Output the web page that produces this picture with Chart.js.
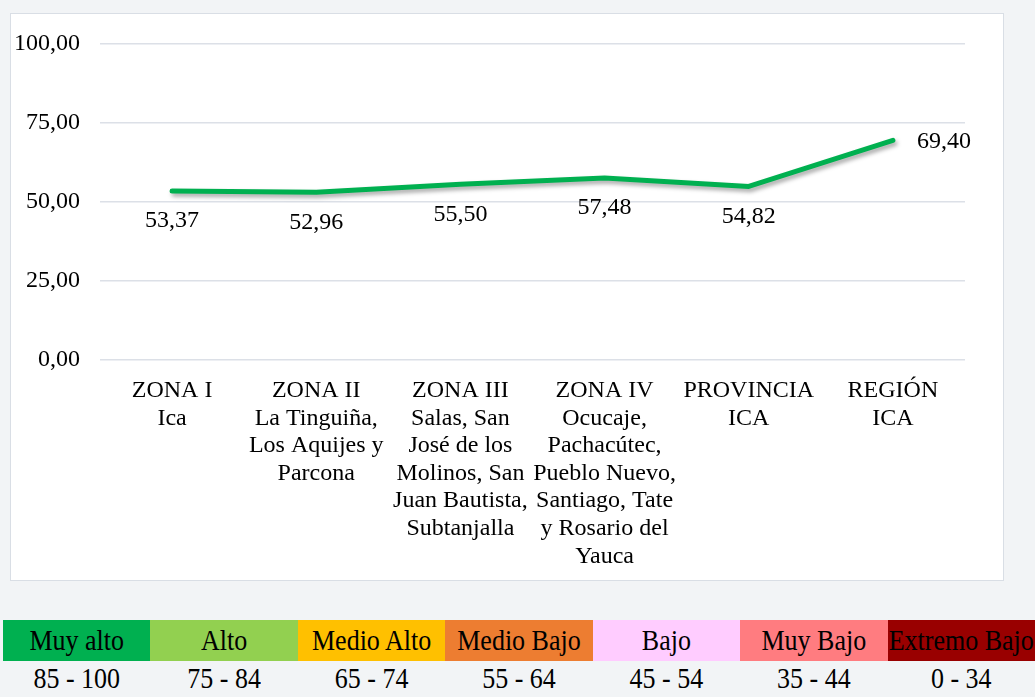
<!DOCTYPE html>
<html>
<head>
<meta charset="utf-8">
<script src="https://cdn.jsdelivr.net/npm/chart.js@4/dist/chart.umd.min.js"></script>
<style>
  html, body { margin: 0; padding: 0; }
  body { width: 1035px; height: 697px; background: #f2f4f6; position: relative; overflow: hidden; font-family: "Liberation Serif", "Times New Roman", serif; }
  #box { position: absolute; left: 10px; top: 13px; width: 992px; height: 566px; background: #fff; border: 1px solid #d9dee5; overflow: hidden; }
  #box canvas { display: block; position: absolute; left: 0; top: -5px; }
  #legend { position: absolute; left: 3px; top: 620px; width: 1032px; border-collapse: collapse; table-layout: fixed; }
  #legend td { padding: 0; text-align: center; font-size: 26px; color: #000; white-space: nowrap; overflow: visible; }
  #legend td span { display: inline-block; transform: scaleY(1.1); }
  #legend tr.c td { height: 41px; }
  #legend tr.r td { height: 36px; }
</style>
</head>
<body>
<div id="box"><canvas id="c" width="992" height="571"></canvas></div>
<table id="legend"><tr class="c" id="rowC"></tr><tr class="r" id="rowR"></tr></table>
<script>
const categories = [
  ["ZONA I", "Ica"],
  ["ZONA II", "La Tinguiña,", "Los Aquijes y", "Parcona"],
  ["ZONA III", "Salas, San", "José de los", "Molinos, San", "Juan Bautista,", "Subtanjalla"],
  ["ZONA IV", "Ocucaje,", "Pachacútec,", "Pueblo Nuevo,", "Santiago, Tate", "y Rosario del", "Yauca"],
  ["PROVINCIA", "ICA"],
  ["REGIÓN", "ICA"]
];
const values = [53.37, 52.96, 55.50, 57.48, 54.82, 69.40];
const yTicks = [0, 25, 50, 75, 100];
const levelNames = ["Muy alto", "Alto", "Medio Alto", "Medio Bajo", "Bajo", "Muy Bajo", "Extremo Bajo"];
const levelRanges = ["85 - 100", "75 - 84", "65 - 74", "55 - 64", "45 - 54", "35 - 44", "0 - 34"];
const levelColors = ["#00b050", "#92d050", "#ffc000", "#ed7d31", "#ffccff", "#ff7c80", "#990000"];

const fmt = v => v.toFixed(2).replace('.', ',');
const FONT = '"Liberation Serif", "Times New Roman", serif';

// legend table
const rowC = document.getElementById('rowC'), rowR = document.getElementById('rowR');
levelNames.forEach((n, i) => {
  const td = document.createElement('td'); const s = document.createElement('span'); s.textContent = n; td.appendChild(s); td.style.background = levelColors[i]; rowC.appendChild(td);
  const td2 = document.createElement('td'); const s2 = document.createElement('span'); s2.textContent = levelRanges[i]; td2.appendChild(s2); rowR.appendChild(td2);
});

const shadowPlugin = {
  id: 'shadow',
  beforeDatasetDraw(chart) { const c = chart.ctx; c.save(); c.shadowColor = 'rgba(0,0,0,0.35)'; c.shadowBlur = 4; c.shadowOffsetX = 2; c.shadowOffsetY = 3; },
  afterDatasetDraw(chart) { chart.ctx.restore(); }
};
const labelPlugin = {
  id: 'vlabels',
  afterDatasetsDraw(chart) {
    const c = chart.ctx; const meta = chart.getDatasetMeta(0);
    c.save(); c.font = '24px ' + FONT; c.fillStyle = '#000';
    meta.data.forEach((p, i) => {
      const t = fmt(values[i]);
      if (i === values.length - 1) { c.textAlign = 'left'; c.textBaseline = 'middle'; c.fillText(t, p.x + 24, p.y + 1); }
      else { c.textAlign = 'center'; c.textBaseline = 'middle'; c.fillText(t, p.x, p.y + 30); }
    });
    c.restore();
  }
};

new Chart(document.getElementById('c'), {
  type: 'line',
  data: { labels: categories, datasets: [{ data: values, borderColor: '#00b050', borderWidth: 5, pointRadius: 0, tension: 0, borderCapStyle: 'round', borderJoinStyle: 'round', fill: false }] },
  options: {
    responsive: false, animation: false,
    layout: { padding: { top: 23, right: 38, left: 0, bottom: 0 } },
    plugins: { legend: { display: false }, tooltip: { enabled: false } },
    scales: {
      x: {
        offset: true,
        grid: { display: false },
        border: { display: false },
        ticks: { font: { family: FONT, size: 24, lineHeight: 1.15 }, color: '#000', padding: 9, maxRotation: 0, autoSkip: false },
        afterFit(s) { s.height = 220; }
      },
      y: {
        min: 0, max: 100,
        afterBuildTicks(s) { s.ticks = yTicks.map(v => ({ value: v })); },
        grid: { color: '#dce0e7', lineWidth: 1.5, drawTicks: false },
        border: { display: false },
        ticks: { font: { family: FONT, size: 24 }, color: '#000', padding: 20, callback: v => fmt(v) },
        afterFit(s) { s.width = 89; }
      }
    }
  },
  plugins: [shadowPlugin, labelPlugin]
});
</script>
</body>
</html>
